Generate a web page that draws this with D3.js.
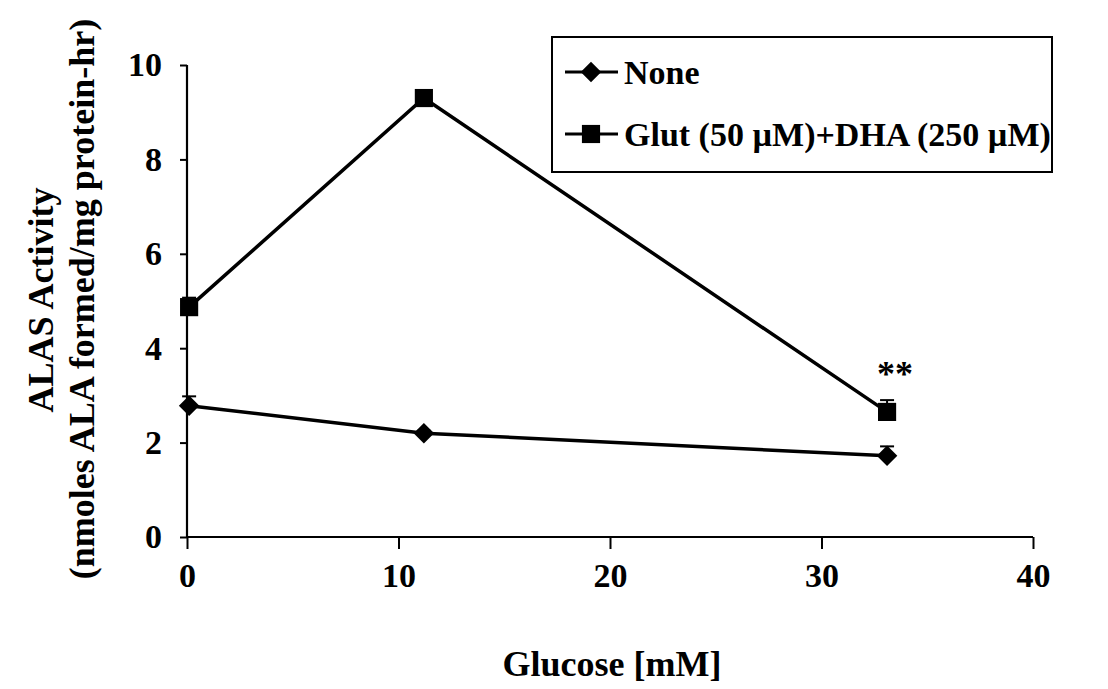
<!DOCTYPE html>
<html><head><meta charset="utf-8">
<script src="https://cdn.jsdelivr.net/npm/d3@7"></script>
<style>
body{margin:0;background:#fff;}
svg text{font-family:"Liberation Serif","Times New Roman",serif;font-weight:bold;fill:#000;}
</style></head>
<body><svg id="c" width="1108" height="689"></svg>
<script>
const glucose = [0.1, 11.2, 33.1];
const noneValues = [2.78, 2.2, 1.72];
const noneErrors = [0.2, 0.05, 0.2];
const glutValues = [4.87, 9.3, 2.65];
const glutErrors = [0.2, 0.05, 0.25];
const seriesNames = ["None", "Glut (50 \u00b5M)+DHA (250 \u00b5M)"];
const xTicks = [0, 10, 20, 30, 40];
const yTicks = [0, 2, 4, 6, 8, 10];

const svg = d3.select("#c");
const x = d3.scaleLinear().domain([0, 40]).range([187, 1033]);
const y = d3.scaleLinear().domain([0, 10]).range([537, 65]);

// axes
const xAxis = svg.append("g").attr("transform", `translate(0,${y(0)})`)
  .call(d3.axisBottom(x).tickValues(xTicks).tickSize(12).tickPadding(14));
const yAxis = svg.append("g").attr("transform", `translate(${x(0)},0)`)
  .call(d3.axisLeft(y).tickValues(yTicks).tickSize(7).tickPadding(18));
[xAxis, yAxis].forEach(a => {
  a.select(".domain").attr("stroke", "#000").attr("stroke-width", 2.2);
  a.selectAll(".tick line").attr("stroke", "#000").attr("stroke-width", 2);
  a.selectAll(".tick text").style("font-size", "34px").attr("fill", "#000");
});
xAxis.select(".domain").attr("d", `M${x(0)},0H${x(40)}`);
yAxis.select(".domain").attr("d", `M0,${y(0)}V${y(10)}`);
xAxis.selectAll(".tick text").attr("dy", "0.72em");

const markerPath = sym => sym === "diamond"
  ? d3.symbol().type(d3.symbolSquare).size(210)()
  : d3.symbol().type(d3.symbolSquare).size(330)();
const markerRot = sym => sym === "diamond" ? " rotate(45)" : "";

const line = d3.line().x(d => x(d[0])).y(d => y(d[1]));
const series = [
  {name: seriesNames[0], vals: noneValues, errs: noneErrors, sym: "diamond"},
  {name: seriesNames[1], vals: glutValues, errs: glutErrors, sym: "square"}
];
series.forEach(s => {
  const pts = glucose.map((g, i) => [g, s.vals[i], s.errs[i]]);
  const eb = svg.append("g").attr("stroke", "#000").attr("stroke-width", 2);
  pts.forEach(p => {
    eb.append("line").attr("x1", x(p[0])).attr("x2", x(p[0])).attr("y1", y(p[1])).attr("y2", y(p[1] + p[2]));
    eb.append("line").attr("x1", x(p[0]) - 7).attr("x2", x(p[0]) + 7).attr("y1", y(p[1] + p[2])).attr("y2", y(p[1] + p[2]));
  });
  svg.append("path").datum(pts).attr("d", line).attr("fill", "none").attr("stroke", "#000").attr("stroke-width", 3.5);
  svg.append("g").selectAll("path").data(pts).join("path")
    .attr("transform", d => `translate(${x(d[0])},${y(d[1])})` + markerRot(s.sym))
    .attr("d", markerPath(s.sym)).attr("fill", "#000");
});

// significance mark
svg.append("text").attr("x", x(glucose[2]) + 8).attr("y", y(glutValues[2] + glutErrors[2]) - 14)
  .attr("text-anchor", "middle").style("font-size", "36px").text("**");

// axis titles
svg.append("text").attr("x", 612).attr("y", 676).attr("text-anchor", "middle").style("font-size", "36px").text("Glucose [mM]");
svg.append("text").attr("transform", "translate(53,300) rotate(-90)").attr("text-anchor", "middle").style("font-size", "36px").text("ALAS Activity");
svg.append("text").attr("transform", "translate(94,299) rotate(-90)").attr("text-anchor", "middle").style("font-size", "36px").text("(nmoles ALA formed/mg protein-hr)");

// legend
const lg = svg.append("g");
lg.append("rect").attr("x", 552).attr("y", 37).attr("width", 500).attr("height", 135)
  .attr("fill", "#fff").attr("stroke", "#000").attr("stroke-width", 2);
series.forEach((s, i) => {
  const cy = 72 + i * 62;
  lg.append("line").attr("x1", 565).attr("x2", 618).attr("y1", cy).attr("y2", cy).attr("stroke", "#000").attr("stroke-width", 3);
  lg.append("path").attr("transform", `translate(591,${cy})` + markerRot(s.sym))
    .attr("d", markerPath(s.sym)).attr("fill", "#000");
  lg.append("text").attr("x", 624).attr("y", cy + 12).style("font-size", "34px").text(s.name);
});
</script></body></html>
